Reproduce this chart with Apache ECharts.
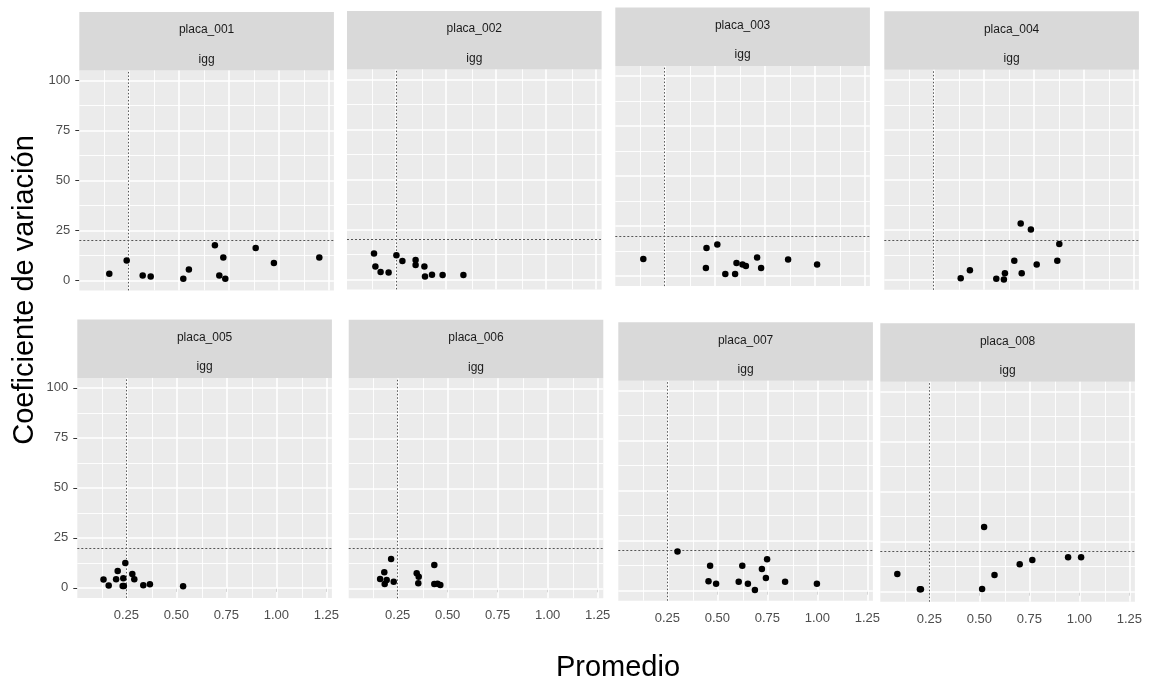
<!DOCTYPE html>
<html><head><meta charset="utf-8">
<script src="https://cdn.jsdelivr.net/npm/echarts@6/dist/echarts.min.js"></script>
<style>html,body{margin:0;padding:0;background:#fff}#c{width:1160px;height:688px}</style>
</head><body><div id="c"></div>
<script>
// ---- data ----
const placas = ['placa_001','placa_002','placa_003','placa_004','placa_005','placa_006','placa_007','placa_008'];
const isotipo = 'igg';
const xTitle = 'Promedio';
const yTitle = 'Coeficiente de variación';
const xBreaks = [0.25, 0.5, 0.75, 1.0, 1.25];
const xMinor = [0.125, 0.375, 0.625, 0.875, 1.125];
const yBreaks = [0, 25, 50, 75, 100];
const yMinor = [12.5, 37.5, 62.5, 87.5];
const umbralCV = 20;
const umbralProm = 0.25;

const prom1 = [0.155,0.242,0.322,0.362,0.525,0.553,0.683,0.705,0.725,0.735,0.887,0.978,1.205];
const cv1   = [3.3,10.0,2.5,2.0,0.8,5.4,17.6,2.5,11.4,0.8,16.2,8.7,11.4];
const prom2 = [0.140,0.147,0.173,0.213,0.252,0.282,0.348,0.348,0.392,0.395,0.430,0.483,0.587];
const cv2   = [12.9,6.4,3.7,3.4,12.1,9.2,9.7,7.2,6.4,1.5,2.3,2.2,2.2];
const prom3 = [0.145,0.458,0.461,0.515,0.555,0.604,0.611,0.641,0.658,0.714,0.734,0.869,1.014];
const cv3   = [8.6,4.0,14.1,15.8,1.0,1.0,6.6,5.8,5.1,9.3,4.0,8.3,5.8];
const prom4 = [0.387,0.433,0.565,0.603,0.608,0.655,0.687,0.692,0.738,0.767,0.870,0.880];
const cv4   = [0.8,4.8,0.5,0.2,3.3,9.5,28.1,3.3,25.1,7.7,9.5,17.9];
const prom5 = [0.136,0.162,0.199,0.207,0.232,0.235,0.238,0.245,0.280,0.290,0.335,0.368,0.534];
const cv5   = [4.2,1.2,4.3,8.4,1.0,4.8,1.0,12.4,6.9,4.3,1.3,1.8,0.8];
const prom6 = [0.162,0.183,0.185,0.195,0.217,0.230,0.345,0.353,0.355,0.433,0.433,0.449,0.463];
const cv6   = [4.7,8.0,2.2,4.2,14.7,3.3,7.5,2.5,5.8,11.7,2.2,2.3,1.7];
const prom7 = [0.301,0.456,0.464,0.494,0.607,0.625,0.653,0.688,0.723,0.743,0.749,0.839,0.998];
const cv7   = [19.6,4.7,12.5,3.5,4.5,12.5,3.5,0.3,10.9,6.4,15.7,4.5,3.5];
const prom8 = [0.090,0.203,0.208,0.514,0.524,0.576,0.702,0.765,0.944,1.009];
const cv8   = [8.8,1.2,1.2,1.3,32.3,8.3,13.7,15.8,17.2,17.2];

const promedios = [prom1,prom2,prom3,prom4,prom5,prom6,prom7,prom8];
const cvs = [cv1,cv2,cv3,cv4,cv5,cv6,cv7,cv8];

// ---- layout (pixels) ----
const FONT = '"Liberation Sans", Arial, sans-serif';
const PW = 254.6, PH = 220, STRIP = 58.5;
const lefts = [79.3, 347, 615.3, 884.3, 77.3, 348.7, 618.3, 880.3];
const tops  = [70.4, 69.4, 66.1, 69.8, 377.9, 378.3, 380.7, 381.7];

const grids = [], xAxes = [], yAxes = [], series = [], graphics = [];
placas.forEach((name, i) => {
  const bottomRow = i >= 4, leftCol = (i % 4) === 0;
  grids.push({left: lefts[i], top: tops[i], width: PW, height: PH, show: true,
    backgroundColor: '#EBEBEB', borderWidth: 0, containLabel: false, outerBoundsMode: 'none'});
  xAxes.push({gridIndex: i, type: 'value', min: 0.005, max: 1.278,
    splitLine: {show: false}, axisLine: {show: false},
    axisTick: {show: bottomRow, customValues: xBreaks, length: 4, lineStyle: {color: '#333', width: 1}},
    axisLabel: {show: bottomRow, customValues: xBreaks, formatter: v => Number(v).toFixed(2),
      color: '#4D4D4D', fontSize: 13, margin: 11, fontFamily: FONT}});
  yAxes.push({gridIndex: i, type: 'value', min: -5, max: 105,
    splitLine: {show: false}, axisLine: {show: false},
    axisTick: {show: leftCol, customValues: yBreaks, length: 4, lineStyle: {color: '#333', width: 1}},
    axisLabel: {show: leftCol, customValues: yBreaks, color: '#4D4D4D', fontSize: 13, margin: 9, fontFamily: FONT}});

  const lines = [];
  xMinor.forEach(v => lines.push({xAxis: v, lineStyle: {color: '#fff', width: 0.9, type: 'solid', opacity: 1}}));
  yMinor.forEach(v => lines.push({yAxis: v, lineStyle: {color: '#fff', width: 0.9, type: 'solid', opacity: 1}}));
  xBreaks.forEach(v => lines.push({xAxis: v, lineStyle: {color: '#fff', width: 1.6, type: 'solid', opacity: 1}}));
  yBreaks.forEach(v => lines.push({yAxis: v, lineStyle: {color: '#fff', width: 1.6, type: 'solid', opacity: 1}}));
  lines.push({yAxis: umbralCV, lineStyle: {color: '#555', width: 1, type: [2, 2], opacity: 1}});
  lines.push({xAxis: umbralProm, lineStyle: {color: '#555', width: 1, type: [1.5, 2], opacity: 1}});

  series.push({type: 'scatter', xAxisIndex: i, yAxisIndex: i, z: 3,
    data: promedios[i].map((x, k) => [x, cvs[i][k]]),
    symbol: 'circle', symbolSize: 6.5, itemStyle: {color: '#000', opacity: 1},
    emphasis: {disabled: true}, silent: true,
    markLine: {z: 1, silent: true, symbol: ['none', 'none'], label: {show: false},
      emphasis: {disabled: true}, animation: false, data: lines}});

  graphics.push({type: 'rect', shape: {x: lefts[i], y: tops[i] - STRIP, width: PW, height: STRIP},
    style: {fill: '#D9D9D9'}, silent: true});
  graphics.push({type: 'text', x: lefts[i] + PW / 2, y: tops[i] - STRIP + 18,
    style: {text: name, fill: '#1A1A1A', fontSize: 12, fontFamily: FONT, align: 'center', verticalAlign: 'middle'}});
  graphics.push({type: 'text', x: lefts[i] + PW / 2, y: tops[i] - STRIP + 47.5,
    style: {text: isotipo, fill: '#1A1A1A', fontSize: 12, fontFamily: FONT, align: 'center', verticalAlign: 'middle'}});
});
graphics.push({type: 'text', x: 618, y: 668,
  style: {text: xTitle, fill: '#000', fontSize: 29, fontFamily: FONT, align: 'center', verticalAlign: 'middle'}});
graphics.push({type: 'text', x: 25, y: 290, rotation: Math.PI / 2,
  style: {text: yTitle, fill: '#000', fontSize: 29, fontFamily: FONT, align: 'center', verticalAlign: 'middle'}});

const chart = echarts.init(document.getElementById('c'), null, {renderer: 'canvas'});
chart.setOption({
  animation: false,
  backgroundColor: '#fff',
  grid: grids, xAxis: xAxes, yAxis: yAxes, series: series,
  graphic: graphics
});
</script>
</body></html>
